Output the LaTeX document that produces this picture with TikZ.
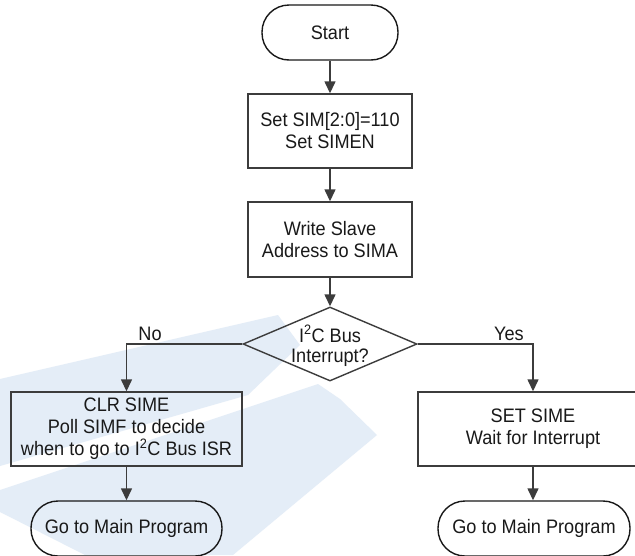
\documentclass[tikz,border=0pt]{standalone}
\usepackage{fontspec}
\setmainfont[FakeStretch=0.93]{Liberation Sans}
\usetikzlibrary{shapes.geometric,arrows.meta}
\definecolor{linec}{HTML}{3C3C3C}
\definecolor{wmark}{HTML}{E4EDF7}
\begin{document}
\begin{tikzpicture}[x=1pt,y=-1pt,
  every node/.style={font=\fontsize{19.5}{22}\selectfont, text=black!90, align=center},
  proc/.style={draw=linec, line width=1.4pt, rectangle, inner sep=0pt},
  term/.style={draw=black!90, line width=1.4pt, rectangle, rounded corners=27pt, inner sep=0pt},
  arr/.style={draw=linec, line width=1.4pt, -{Triangle[length=12pt,width=11pt]}}]
\clip (0,0) rectangle (635,555);
\fill[white] (0,0) rectangle (635,555);
% watermark
\fill[wmark] (0,379) -- (278,315) -- (300,345) -- (248,395) -- (0,466) -- cycle;
\fill[wmark] (0,490) -- (318,384) -- (340,399) -- (377,435) -- (233,555) -- (85,555) -- (0,512) -- cycle;
% nodes
\node[term, minimum width=136pt, minimum height=55pt] (start) at (330,32.5) {Start};
\node[proc, minimum width=164pt, minimum height=74pt] (b1) at (330,131) {Set SIM[2:0]=110\\Set SIMEN};
\node[proc, minimum width=164pt, minimum height=75pt] (b2) at (330,239.5) {Write Slave\\Address to SIMA};
\node[diamond, draw=linec, line width=1.4pt, minimum width=174pt, minimum height=74pt, inner sep=0pt, shape aspect=2.35] (dec) at (330,344) {};
\node[font=\fontsize{19.5}{20}\selectfont] (dectext) at (330,346) {I\textsuperscript{2}C Bus\\Interrupt?};
\node[proc, minimum width=231pt, minimum height=74pt] (lbox) at (126.5,429) {CLR SIME\\Poll SIMF to decide\\when to go to I\textsuperscript{2}C Bus ISR};
\node[proc, minimum width=230pt, minimum height=74pt] (rbox) at (533,429) {SET SIME\\Wait for Interrupt};
\node[term, minimum width=191pt, minimum height=55pt] (lend) at (126.5,528.5) {Go to Main Program};
\node[term, minimum width=192pt, minimum height=55pt] (rend) at (534,528.5) {Go to Main Program};
\node (no) at (150,334) {No};
\node (yes) at (509,334) {Yes};
% connectors
\draw[arr] (start) -- (b1);
\draw[arr] (b1) -- (b2);
\draw[arr] (b2) -- (dec);
\draw[arr] (dec.west) -| (lbox.north);
\draw[arr] (dec.east) -| (rbox.north);
\draw[arr] (lbox) -- (lend);
\draw[arr] (rbox.south) -- (rbox.south |- rend.north);
\end{tikzpicture}
\end{document}
